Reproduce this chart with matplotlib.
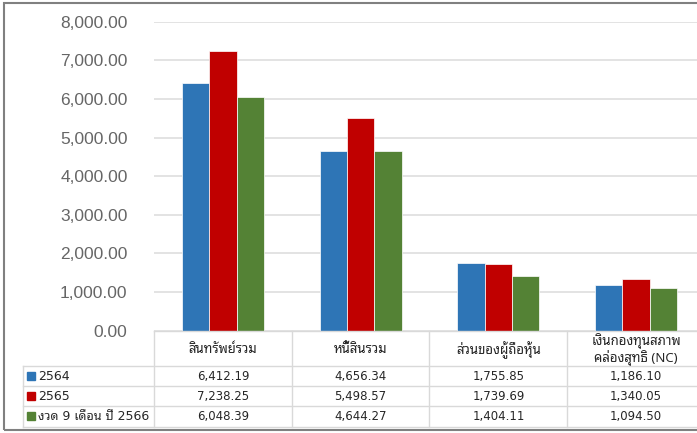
import numpy as np
import matplotlib
matplotlib.use("Agg")
import matplotlib.pyplot as plt
from matplotlib import font_manager
from matplotlib.ft2font import FT2Font
from matplotlib.patches import Rectangle

# ----------------------------------------
# データ
# ----------------------------------------
categories = ["สินทรัพย์รวม", "หนี้สินรวม", "ส่วนของผู้ถือหุ้น", "เงินกองทุนสภาพ\nคล่องสุทธิ (NC)"]
series_names = ["2564", "2565", "งวด 9 เดือน ปี 2566"]
values_2564 = [6412.19, 4656.34, 1755.85, 1186.10]
values_2565 = [7238.25, 5498.57, 1739.69, 1340.05]
values_2566_9m = [6048.39, 4644.27, 1404.11, 1094.50]
yticks = [0, 1000, 2000, 3000, 4000, 5000, 6000, 7000, 8000]

colors = ["#2E75B6", "#C00000", "#548235"]


def find_thai_font():
    """タイ文字を含むフォントを探す"""
    found = []
    for f in font_manager.fontManager.ttflist:
        try:
            cmap = FT2Font(f.fname).get_charmap()
        except Exception:
            continue
        if 0x0E2A in cmap and 0x0E34 in cmap:
            found.append(f.name)
    for pref in ["Tahoma", "Noto Sans Thai", "Loma", "Garuda"]:
        for n in found:
            if pref in n:
                return n
    return found[0] if found else "DejaVu Sans"


thai_font = find_thai_font()
table_family = ["DejaVu Sans", thai_font]

W, H = 697, 433
fig = plt.figure(figsize=(W / 100, H / 100), dpi=100)

# 棒グラフ
x0, x1 = 154, 705
y_top, y_bot = 21.7, 330.7
ax = fig.add_axes([x0 / W, (H - y_bot) / H, (x1 - x0) / W, (y_bot - y_top) / H])

x = np.arange(len(categories))
width = 0.198
all_values = [values_2564, values_2565, values_2566_9m]
for i, vals in enumerate(all_values):
    ax.bar(x + (i - 1) * width, vals, width, color=colors[i],
           edgecolor="white", linewidth=0.5, zorder=3)

ax.set_xlim(-0.5, 3.5)
ax.set_ylim(0, 8000)
ax.set_yticks(yticks)
ax.set_yticklabels([f"{v:,.2f}" for v in yticks], family="Liberation Sans",
                   fontsize=12.5, color="#666666")
ax.tick_params(axis="y", length=0, pad=19)
ax.set_xticks([])
ax.grid(axis="y", color="#E0E0E0", linewidth=1.3, zorder=0)
for s in ax.spines.values():
    s.set_visible(False)

# データテーブル
t_left = 22.7
col_w = (x1 - x0) / 4
lab_left = (t_left - x0) / col_w - 0.5
tax = fig.add_axes([t_left / W, (H - 426.5) / H, (x1 - t_left) / W, (426.5 - y_bot) / H])
tax.set_xlim(lab_left, 3.5)
head_h = 1.72
tax.set_ylim(head_h + 3, 0)
tax.axis("off")

line_kw = dict(color="#D9D9D9", linewidth=1.0, clip_on=False)
tax.plot([-0.5, 3.5], [0, 0], **line_kw)
for yy in [head_h, head_h + 1, head_h + 2, head_h + 3]:
    tax.plot([lab_left, 3.5], [yy, yy], **line_kw)
for xx in [-0.5, 0.5, 1.5, 2.5, 3.5]:
    tax.plot([xx, xx], [0, head_h + 3], **line_kw)
tax.plot([lab_left, lab_left], [head_h, head_h + 3], **line_kw)

for j, cat in enumerate(categories):
    tax.text(j, head_h / 2 + 0.08, cat, ha="center", va="center", fontsize=9.5,
             family=[thai_font, "DejaVu Sans"], color="#262626", linespacing=1.1)

for i, (name, vals) in enumerate(zip(series_names, all_values)):
    yc = head_h + i + 0.5
    tax.add_patch(Rectangle((lab_left + 0.032, yc - 0.2), 0.058, 0.4,
                            color=colors[i], clip_on=False))
    tax.text(lab_left + 0.11, yc + 0.03, name, ha="left", va="center", fontsize=9,
             family=table_family, color="#262626")
    for j, v in enumerate(vals):
        tax.text(j, yc + 0.03, f"{v:,.2f}", ha="center", va="center", fontsize=8.5,
                 family=table_family, color="#262626")

# 外枠
fig.add_artist(Rectangle((4 / W, (H - 430) / H), 1.2, (430 - 2.5) / H,
                         transform=fig.transFigure, fill=False,
                         edgecolor="#808080", linewidth=1.5))

fig.savefig("out.png", dpi=100)
